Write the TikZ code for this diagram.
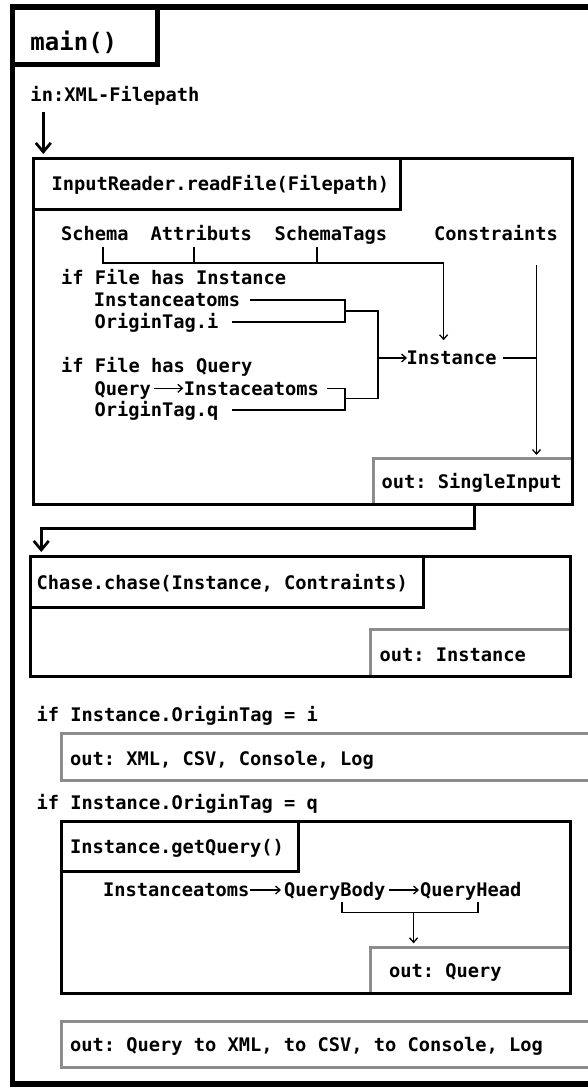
\documentclass[tikz,border=0pt]{standalone}
\usepackage{fontspec}
\setmonofont{DejaVu Sans Mono}
\usetikzlibrary{arrows.meta}
\definecolor{grayline}{HTML}{8C8C8C}
\begin{document}
\begin{tikzpicture}[x=1pt,y=-1pt,
  every node/.style={inner sep=0pt,outer sep=0pt},
  lbl/.style={font=\ttfamily\bfseries\fontsize{18.7pt}{22pt}\selectfont,anchor=west,text height=13.6pt,text depth=0pt},
  heading/.style={font=\ttfamily\bfseries\fontsize{24pt}{28pt}\selectfont,anchor=west,text height=17.5pt,text depth=0pt},
  panel/.style={draw=black,line width=3pt,rectangle,anchor=north west},
  outbox/.style={draw=grayline,line width=3pt,rectangle,anchor=north west},
  wire/.style={line width=1.3pt},
  wirearr/.style={wire,-{Straight Barb[length=4.5pt,width=8pt]}},
  flow/.style={line width=2.7pt},
  flowarr/.style={flow,-{Straight Barb[length=9pt,width=15pt]}},
]
\useasboundingbox (0,0) rectangle (588,1089);
\fill[white] (0,0) rectangle (588,1089);
\clip (0,0) rectangle (588,1089);

% outer frame of main()
\node[panel,line width=5.5pt,minimum width=600pt,minimum height=1077pt] (frame) at (12.5,7) {};
\node[panel,line width=5pt,minimum width=145pt,minimum height=57.5pt] (mainbox) at (12.5,7) {};
\node[heading] (mainT) at (30.5,41.3) {main()};
\node[lbl] (inxml) at (30.5,94.8) {in:XML-Filepath};

% output boxes (grey), drawn below the black panels
\node[outbox,minimum width=199.5pt,minimum height=45.7pt] (singlein) at (373,458.3) {};
\node[outbox,minimum width=200.2pt,minimum height=46.7pt] (outInst) at (370.5,629.3) {};
\node[outbox,minimum width=560pt,minimum height=47.2pt] (outXML) at (61,733.3) {};
\node[outbox,minimum width=200.2pt,minimum height=45.6pt] (outQuery) at (370.5,947.7) {};
\node[outbox,minimum width=560pt,minimum height=45.8pt] (outAll) at (61,1021.7) {};

% InputReader panel
\node[panel,minimum width=539.5pt,minimum height=346pt] (reader) at (33,158) {};
\node[panel,minimum width=367.5pt,minimum height=51pt] (readerT) at (33,158) {};
\node[lbl] (readerTxt) at (51.5,183.5) {InputReader.readFile(Filepath)};

\node[lbl] (schema) at (61,234) {Schema};
\node[lbl] (attr) at (150.5,234) {Attributs};
\node[lbl] (stags) at (274.5,234) {SchemaTags};
\node[lbl] (constr) at (434,234) {Constraints};

\node[lbl] (ifInst) at (61,277.5) {if File has Instance};
\node[lbl] (iatoms) at (93.8,300) {Instanceatoms};
\node[lbl] (otagi) at (94.6,322) {OriginTag.i};
\node[lbl] (ifQuery) at (61,366) {if File has Query};
\node[lbl] (qry) at (94.6,388.3) {Query};
\node[lbl] (iatoms2) at (183.8,388.3) {Instaceatoms};
\node[lbl] (otagq) at (94.6,410) {OriginTag.q};
\node[lbl] (instance) at (406.5,358) {Instance};
\node[lbl] (singleTxt) at (381.5,481.5) {out: SingleInput};

% Chase panel
\node[panel,minimum width=540.7pt,minimum height=119.3pt] (chase) at (30,556.7) {};
\node[panel,minimum width=393pt,minimum height=50.6pt] (chaseT) at (30,556.7) {};
\node[lbl] (chaseTxt) at (36.5,583) {Chase.chase(Instance, Contraints)};
\node[lbl] (outInstTxt) at (379.6,655) {out: Instance};

% branches on the origin tag
\node[lbl] (ifI) at (36.5,715) {if Instance.OriginTag = i};
\node[lbl] (outXMLTxt) at (70,758.5) {out: XML, CSV, Console, Log};
\node[lbl] (ifQ) at (36.5,802.5) {if Instance.OriginTag = q};

\node[panel,minimum width=509.7pt,minimum height=171.6pt] (query) at (61,821.7) {};
\node[panel,minimum width=237pt,minimum height=50pt] (queryT) at (61,821.7) {};
\node[lbl] (queryTxt) at (70,846.7) {Instance.getQuery()};
\node[lbl] (ia3) at (103,890) {Instanceatoms};
\node[lbl] (qbody) at (284,890) {QueryBody};
\node[lbl] (qhead) at (420,890) {QueryHead};
\node[lbl] (outQueryTxt) at (389,970.5) {out: Query};
\node[lbl] (outAllTxt) at (70,1044.5) {out: Query to XML, to CSV, to Console, Log};

% connector points
\coordinate (inStart) at (43.3,111.7);
\coordinate (sch) at (103,247);
\coordinate (att) at (194,247);
\coordinate (stg) at (317,247);
\coordinate (tagbus) at (443.6,263);
\coordinate (cst) at (536.5,265);
\coordinate (bi) at (345,311);
\coordinate (bj) at (378,311);
\coordinate (bq) at (345,398.5);
\coordinate (bk) at (378,398.5);
\coordinate (turn) at (474.4,528.3);
\coordinate (chaseIn) at (41.25,552);
\coordinate (qbL) at (342,902);
\coordinate (qhR) at (478,902);
\coordinate (qbus) at (413.6,912.7);

% main flow
\draw[flowarr] (inStart) -- ([yshift=4pt]reader.north -| inStart);
\draw[flowarr] (singlein.south -| turn) -- (turn) -| (chaseIn);

% schema information into the instance
\draw[wire] (sch) |- (tagbus);
\draw[wire] (att) -- (att |- tagbus);
\draw[wire] (stg) -- (stg |- tagbus);
\draw[wirearr] (tagbus) -- ([yshift=11pt]instance.north -| tagbus);

% instance atoms and origin tags
\draw[wire] ([xshift=10pt]iatoms.east) -| (bi) |- ([xshift=14pt]otagi.east);
\draw[wirearr] (qry.east) ++(3,0) -- ([xshift=-0.5pt]iatoms2.west);
\draw[wire] ([xshift=8.5pt]iatoms2.east) -| (bq) |- ([xshift=14pt]otagq.east);
\draw[wire] (bi) -- (bj) -- (bk) -- (bq);
\draw[wirearr] (bj |- instance.west) -- ([xshift=0.5pt]instance.west);

% constraints and instance into the single input
\draw[wire] ([xshift=6pt]instance.east) -- (cst |- instance.east);
\draw[wirearr] (cst) -- ([yshift=3.3pt]singlein.north -| cst);

% query construction
\draw[wirearr] ([xshift=1pt]ia3.east) -- ([xshift=-3pt]qbody.west);
\draw[wirearr] ([xshift=4pt]qbody.east) -- ([xshift=-1pt]qhead.west);
\draw[wire] (qbL) -- (qbL |- qbus) -- (qhR |- qbus) -- (qhR);
\draw[wirearr] (qbus) -- ([yshift=4.4pt]outQuery.north -| qbus);
\end{tikzpicture}
\end{document}
